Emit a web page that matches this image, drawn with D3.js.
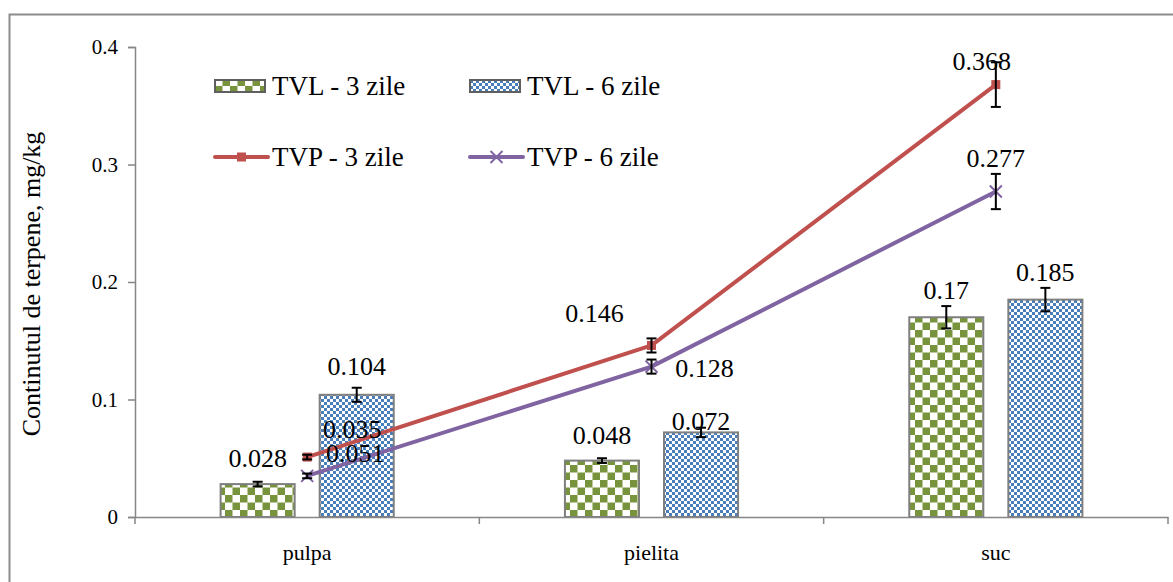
<!DOCTYPE html>
<html>
<head>
<meta charset="utf-8">
<script src="https://cdn.jsdelivr.net/npm/d3@7"></script>
<style>
  body { margin: 0; background: #fff; }
  svg { display: block; }
  svg text { font-family: 'Liberation Serif'; fill: #000; }
</style>
</head>
<body>
<svg width="1173" height="582"></svg>
<script>
// date
var categories = ["pulpa", "pielita", "suc"];
var tvl3 = [0.028, 0.048, 0.17];
var tvl6 = [0.104, 0.072, 0.185];
var tvp3 = [0.051, 0.146, 0.368];
var tvp6 = [0.035, 0.128, 0.277];
var tvl3Err = [0.002, 0.002, 0.0095];
var tvl6Err = [0.006, 0.004, 0.01];
var tvp3Err = [0.002, 0.006, 0.019];
var tvp6Err = [0.002, 0.006, 0.015];
var yTicks = [0, 0.1, 0.2, 0.3, 0.4];

var svg = d3.select("svg");
var serif = "'Liberation Serif'";

// chenar exterior
svg.append("rect")
    .attr("x", 9.5).attr("y", 14.5)
    .attr("width", 1200).attr("height", 620)
    .attr("fill", "none").attr("stroke", "#8c8c8c").attr("stroke-width", 2);

var defs = svg.append("defs");
// model tabla de sah mare (verde)
var pg = defs.append("pattern").attr("id", "chkGreen")
    .attr("patternUnits", "userSpaceOnUse").attr("width", 15).attr("height", 15);
pg.append("rect").attr("width", 15).attr("height", 15).attr("fill", "#fff");
pg.append("rect").attr("width", 7.5).attr("height", 7.5).attr("fill", "#77933C");
pg.append("rect").attr("x", 7.5).attr("y", 7.5).attr("width", 7.5).attr("height", 7.5).attr("fill", "#77933C");
// model tabla de sah mic (albastru)
var pb = defs.append("pattern").attr("id", "chkBlue")
    .attr("patternUnits", "userSpaceOnUse").attr("width", 6).attr("height", 6);
pb.append("rect").attr("width", 6).attr("height", 6).attr("fill", "#fff");
pb.append("rect").attr("width", 3).attr("height", 3).attr("fill", "#4A7EBB");
pb.append("rect").attr("x", 3).attr("y", 3).attr("width", 3).attr("height", 3).attr("fill", "#4A7EBB");

var x = d3.scaleBand().domain(categories).range([135, 1168]);
var xSub = d3.scaleBand().domain([0, 1]).range([0, x.bandwidth()])
    .paddingInner(0.2525).paddingOuter(0.864);
var y = d3.scaleLinear().domain([0, 0.4]).range([517, 47]);

// axa y
var yAxis = svg.append("g").attr("transform", "translate(135,0)")
    .call(d3.axisLeft(y).tickValues(yTicks).tickSize(7).tickPadding(10)
        .tickFormat(d => d === 0 ? "0" : d3.format(".1f")(d)));
yAxis.select(".domain").attr("stroke", "#868686").attr("stroke-width", 1.5);
yAxis.selectAll(".tick line").attr("stroke", "#868686").attr("stroke-width", 1.5);
yAxis.selectAll("text").style("font-size", "21px").style("font-family", serif);

svg.append("text")
    .attr("transform", "translate(31,284) rotate(-90)")
    .attr("text-anchor", "middle")
    .attr("dy", "0.35em")
    .style("font-size", "26px")
    .text("Continutul de terpene, mg/kg");

// bare
var barSeries = [
    { values: tvl3, err: tvl3Err, fill: "url(#chkGreen)", idx: 0 },
    { values: tvl6, err: tvl6Err, fill: "url(#chkBlue)", idx: 1 }
];
barSeries.forEach(s => {
    svg.append("g").selectAll("rect")
        .data(s.values)
        .enter().append("rect")
        .attr("x", (d, i) => x(categories[i]) + xSub(s.idx))
        .attr("y", d => y(d))
        .attr("width", xSub.bandwidth())
        .attr("height", d => y(0) - y(d))
        .attr("fill", s.fill)
        .attr("stroke", "#7f7f7f")
        .attr("stroke-width", 2);
});

// axa x
var xAxis = svg.append("g").attr("transform", "translate(0,517)")
    .call(d3.axisBottom(x).tickSize(0).tickPadding(27));
xAxis.select(".domain").attr("stroke", "#868686").attr("stroke-width", 1.5);
xAxis.selectAll("text").style("font-size", "22px").style("font-family", serif);
svg.append("g").selectAll("line")
    .data(categories.concat(["end"]))
    .enter().append("line")
    .attr("x1", (d, i) => i < categories.length ? x(d) : x(categories[i - 1]) + x.bandwidth())
    .attr("x2", (d, i) => i < categories.length ? x(d) : x(categories[i - 1]) + x.bandwidth())
    .attr("y1", 517).attr("y2", 524)
    .attr("stroke", "#868686").attr("stroke-width", 1.5);

// linii
var cx = d => x(d) + x.bandwidth() / 2;
var line = d3.line().x((d, i) => cx(categories[i])).y(d => y(d));
var lineSeries = [
    { values: tvp3, err: tvp3Err, color: "#C0504D", marker: "square" },
    { values: tvp6, err: tvp6Err, color: "#8064A2", marker: "x" }
];
lineSeries.forEach(s => {
    svg.append("path").datum(s.values)
        .attr("d", line)
        .attr("fill", "none")
        .attr("stroke", s.color)
        .attr("stroke-width", 4)
        .attr("stroke-linejoin", "round");
    var g = svg.append("g").selectAll("g").data(s.values).enter().append("g")
        .attr("transform", (d, i) => "translate(" + cx(categories[i]) + "," + y(d) + ")");
    if (s.marker === "square") {
        g.append("rect").attr("x", -4.5).attr("y", -4.5).attr("width", 9).attr("height", 9).attr("fill", s.color);
    } else {
        g.append("path").attr("d", "M-6,-6L6,6M-6,6L6,-6").attr("stroke", s.color).attr("stroke-width", 2);
    }
});

// bare de eroare
function errorBars(values, err, xpos) {
    var g = svg.append("g").selectAll("g").data(values).enter().append("g")
        .attr("stroke", "#000").attr("stroke-width", 2);
    g.append("line")
        .attr("x1", (d, i) => xpos(i)).attr("x2", (d, i) => xpos(i))
        .attr("y1", (d, i) => y(d + err[i])).attr("y2", (d, i) => y(d - err[i]));
    g.append("line")
        .attr("x1", (d, i) => xpos(i) - 5).attr("x2", (d, i) => xpos(i) + 5)
        .attr("y1", (d, i) => y(d + err[i])).attr("y2", (d, i) => y(d + err[i]));
    g.append("line")
        .attr("x1", (d, i) => xpos(i) - 5).attr("x2", (d, i) => xpos(i) + 5)
        .attr("y1", (d, i) => y(d - err[i])).attr("y2", (d, i) => y(d - err[i]));
}
barSeries.forEach(s => errorBars(s.values, s.err,
    i => x(categories[i]) + xSub(s.idx) + xSub.bandwidth() / 2));
lineSeries.forEach(s => errorBars(s.values, s.err, i => cx(categories[i])));

// etichete valori (deplasari fata de punct)
var labelShift = {
    tvl3: [[0, -26], [0, -26], [0, -27]],
    tvl6: [[0, -29], [0, -12], [0, -28]],
    tvp3: [[48, -4], [-57, -33], [-14, -24]],
    tvp6: [[45, -47], [53, 1], [0, -34]]
};
function labels(values, shifts, xpos) {
    svg.append("g").selectAll("text").data(values).enter().append("text")
        .attr("x", (d, i) => xpos(i) + shifts[i][0])
        .attr("y", (d, i) => y(d) + shifts[i][1])
        .attr("dy", "0.35em")
        .attr("text-anchor", "middle")
        .style("font-size", "26px")
        .text(d => d);
}
labels(tvl3, labelShift.tvl3, i => x(categories[i]) + xSub(0) + xSub.bandwidth() / 2);
labels(tvl6, labelShift.tvl6, i => x(categories[i]) + xSub(1) + xSub.bandwidth() / 2);
labels(tvp3, labelShift.tvp3, i => cx(categories[i]));
labels(tvp6, labelShift.tvp6, i => cx(categories[i]));

// legenda
var legend = svg.append("g");
var legItems = [
    { name: "TVL - 3 zile", type: "bar", fill: "url(#chkGreen)", x: 215, y: 86 },
    { name: "TVL - 6 zile", type: "bar", fill: "url(#chkBlue)", x: 470, y: 86 },
    { name: "TVP - 3 zile", type: "line", color: "#C0504D", marker: "square", x: 215, y: 157 },
    { name: "TVP - 6 zile", type: "line", color: "#8064A2", marker: "x", x: 470, y: 157 }
];
legItems.forEach(it => {
    var g = legend.append("g").attr("transform", "translate(" + it.x + "," + it.y + ")");
    if (it.type === "bar") {
        g.append("rect").attr("x", 0).attr("y", -6).attr("width", 50).attr("height", 12)
            .attr("fill", it.fill).attr("stroke", "#5f5f5f").attr("stroke-width", 2);
    } else {
        g.append("line").attr("x1", 0).attr("x2", 53).attr("y1", 0).attr("y2", 0)
            .attr("stroke", it.color).attr("stroke-width", 4).attr("stroke-linecap", "round");
        if (it.marker === "square") {
            g.append("rect").attr("x", 22).attr("y", -4.5).attr("width", 9).attr("height", 9).attr("fill", it.color);
        } else {
            g.append("path").attr("d", "M20.5,-6L32.5,6M20.5,6L32.5,-6").attr("stroke", it.color).attr("stroke-width", 2);
        }
    }
    g.append("text").attr("x", 57).attr("dy", "0.35em").style("font-size", "27px").text(it.name);
});
</script>
</body>
</html>
